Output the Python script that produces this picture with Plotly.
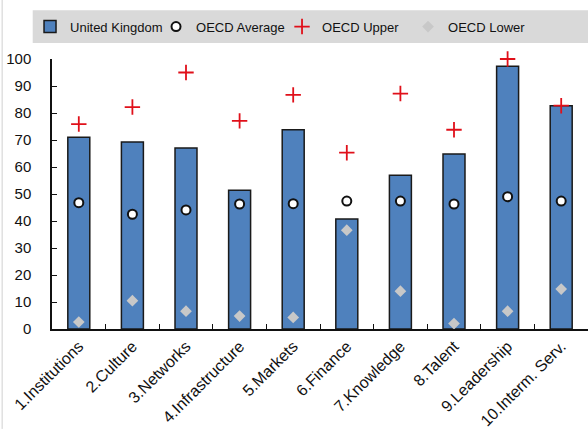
import plotly.graph_objects as go

categories = ["1.Institutions", "2.Culture", "3.Networks", "4.Infrastructure", "5.Markets",
              "6.Finance", "7.Knowledge", "8.Talent", "9.Leadership", "10.Interm. Serv."]
uk = [71, 69.3, 67, 51.4, 73.8, 40.7, 56.9, 64.8, 97.3, 82.7]
oecd_avg = [46.8, 42.5, 44.1, 46.3, 46.4, 47.4, 47.4, 46.3, 49.0, 47.4]
oecd_upper = [75.9, 82.2, 95.0, 77.1, 86.7, 65.3, 87.2, 73.8, 100, 82.7]
oecd_lower = [2.6, 10.5, 6.6, 4.8, 4.3, 36.6, 14.0, 2.0, 6.6, 14.8]
y_ticks = list(range(0, 101, 10))

FONT = "Liberation Sans, Arial, sans-serif"

fig = go.Figure()
fig.add_trace(go.Bar(
    x=categories, y=uk, name="United Kingdom", width=0.41,
    marker=dict(color="#4f81bd", line=dict(color="#1a1a1a", width=1.5)),
))
fig.add_trace(go.Scatter(
    x=categories, y=oecd_avg, name="OECD Average", mode="markers", cliponaxis=False,
    marker=dict(symbol="circle", size=9, color="white", line=dict(color="#111111", width=2)),
))
fig.add_trace(go.Scatter(
    x=categories, y=oecd_upper, name="OECD Upper", mode="markers", cliponaxis=False,
    marker=dict(symbol="cross-thin", size=11, line=dict(color="#e0101a", width=1.8)),
))
fig.add_trace(go.Scatter(
    x=categories, y=oecd_lower, name="OECD Lower", mode="markers", cliponaxis=False,
    marker=dict(symbol="diamond", size=9, color="#c8c8c8", line=dict(width=0)),
))

# grey band behind the legend
fig.add_shape(type="rect", xref="paper", yref="paper",
              x0=-0.036, x1=1.0, y0=1.059, y1=1.181,
              fillcolor="#d9d9d9", line=dict(width=0), layer="below")
# thin frame line on the left edge
fig.add_shape(type="line", xref="paper", yref="paper",
              x0=-0.093, x1=-0.093, y0=-0.37, y1=1.22,
              line=dict(color="#d0d0d0", width=1))

fig.update_layout(
    width=588, height=429,
    margin=dict(l=52, r=0, t=59, b=100),
    paper_bgcolor="white", plot_bgcolor="white",
    font=dict(family=FONT, size=13, color="#111111"),
    showlegend=True,
    legend=dict(orientation="h", x=-0.041, y=1.12, xanchor="left", yanchor="middle",
                bgcolor="rgba(0,0,0,0)", font=dict(size=13, color="#111111"),
                itemwidth=30, tracegroupgap=0, entrywidth=81),
    bargap=0.6,
)
fig.update_xaxes(
    range=[-0.5, 9.5], tickangle=-45, showline=True, linecolor="#111111", linewidth=1.5,
    ticks="inside", ticklen=5, tickcolor="#111111", tickwidth=1.2,
    tickson="boundaries", showgrid=False, zeroline=False,
    tickfont=dict(size=16, family=FONT, color="#111111"),
)
fig.update_yaxes(
    range=[0, 100], tickvals=y_ticks, showline=True, linecolor="#111111", linewidth=1.5,
    ticks="inside", ticklen=5, tickcolor="#111111", tickwidth=1.2,
    showgrid=False, zeroline=False, ticklabelstandoff=16,
    tickfont=dict(size=15, family=FONT, color="#111111"),
)

fig.write_html("out.html")
